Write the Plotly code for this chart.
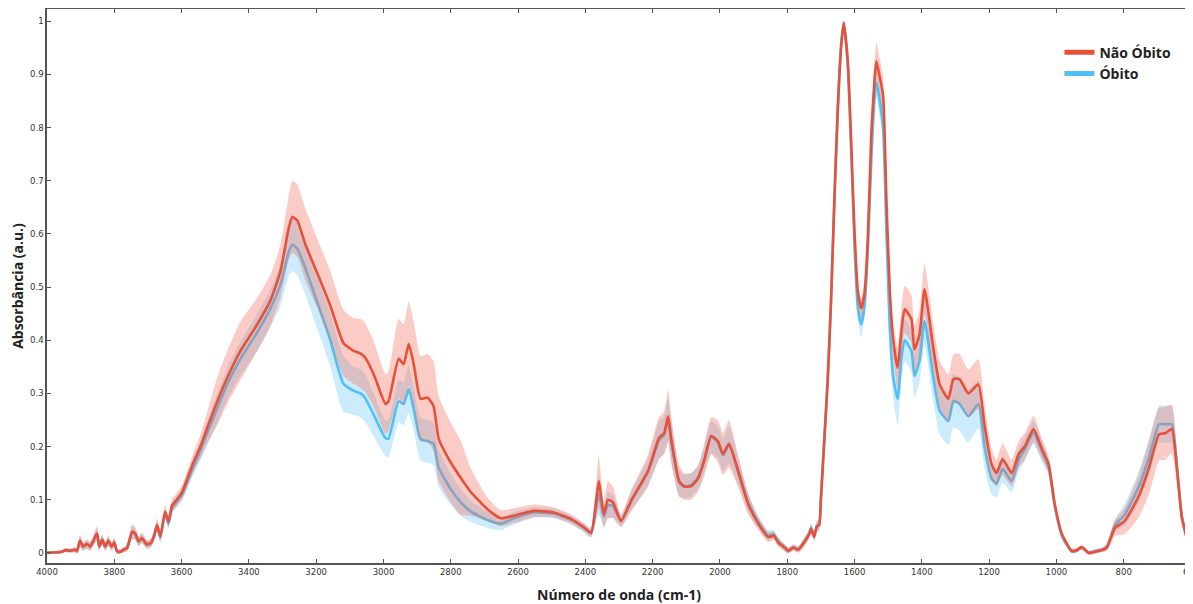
import plotly.graph_objects as go

# Wavenumber grid (cm-1), descending
wavenumber = [4000, 3956, 3946, 3930, 3917, 3911, 3902, 3893, 3881, 3872, 3863, 3851, 3845, 3836, 3827,
              3818, 3808, 3800, 3792, 3783, 3772, 3762, 3747, 3738, 3728, 3718, 3703, 3691, 3681, 3673,
              3663, 3649, 3639, 3628, 3618, 3598, 3583, 3565, 3544, 3524, 3494, 3464, 3425, 3375, 3336,
              3306, 3282, 3271, 3256, 3232, 3196, 3158, 3119, 3089, 3068, 3055, 3029, 2994, 2985, 2955,
              2940, 2925, 2910, 2890, 2869, 2851, 2836, 2800, 2770, 2741, 2691, 2651, 2612, 2553, 2494,
              2443, 2404, 2383, 2369, 2360, 2354, 2345, 2333, 2318, 2294, 2264, 2214, 2181, 2166, 2154,
              2145, 2121, 2106, 2086, 2065, 2047, 2026, 2006, 1991, 1973, 1946, 1916, 1886, 1857, 1840,
              1827, 1812, 1797, 1782, 1767, 1749, 1735, 1729, 1720, 1712, 1705, 1700, 1690, 1680, 1670,
              1660, 1650, 1640, 1632, 1620, 1610, 1600, 1590, 1580, 1570, 1560, 1550, 1540, 1535, 1525,
              1515, 1505, 1495, 1485, 1472, 1460, 1451, 1431, 1422, 1407, 1392, 1366, 1347, 1321, 1306,
              1288, 1262, 1232, 1214, 1193, 1178, 1160, 1133, 1112, 1094, 1068, 1044, 1023, 1005, 984,
              955, 940, 925, 904, 880, 865, 850, 826, 797, 755, 725, 695, 676, 657, 642,
              627, 606, 600]

# "Não Óbito" mean absorbance and standard deviation
nao_obito_mean = [0.000, 0.002, 0.005, 0.004, 0.006, 0.003, 0.023, 0.012, 0.017, 0.012, 0.022, 0.037, 0.012, 0.025, 0.012,
                  0.023, 0.012, 0.020, 0.003, 0.002, 0.006, 0.009, 0.040, 0.037, 0.022, 0.028, 0.016, 0.019, 0.034, 0.053,
                  0.031, 0.078, 0.059, 0.090, 0.097, 0.115, 0.140, 0.170, 0.200, 0.235, 0.285, 0.330, 0.380, 0.430, 0.475,
                  0.530, 0.610, 0.632, 0.625, 0.580, 0.525, 0.465, 0.395, 0.380, 0.375, 0.368, 0.336, 0.280, 0.285, 0.365,
                  0.355, 0.393, 0.355, 0.290, 0.292, 0.276, 0.215, 0.170, 0.141, 0.115, 0.082, 0.065, 0.070, 0.079, 0.076,
                  0.064, 0.048, 0.038, 0.092, 0.135, 0.110, 0.073, 0.100, 0.095, 0.060, 0.098, 0.154, 0.216, 0.225, 0.257,
                  0.215, 0.135, 0.125, 0.125, 0.140, 0.173, 0.220, 0.210, 0.186, 0.205, 0.154, 0.092, 0.055, 0.030, 0.032,
                  0.020, 0.012, 0.004, 0.010, 0.006, 0.020, 0.035, 0.045, 0.030, 0.050, 0.052, 0.100, 0.210, 0.320, 0.470,
                  0.660, 0.830, 0.950, 0.997, 0.925, 0.775, 0.605, 0.490, 0.460, 0.490, 0.600, 0.790, 0.895, 0.925, 0.895,
                  0.860, 0.660, 0.490, 0.400, 0.348, 0.420, 0.458, 0.440, 0.383, 0.410, 0.496, 0.386, 0.317, 0.290, 0.327,
                  0.327, 0.300, 0.317, 0.242, 0.167, 0.150, 0.176, 0.150, 0.186, 0.200, 0.233, 0.197, 0.167, 0.092, 0.036,
                  0.004, 0.005, 0.011, 0.000, 0.003, 0.005, 0.010, 0.047, 0.060, 0.107, 0.160, 0.223, 0.225, 0.233, 0.160,
                  0.066, 0.013, 0.005]
nao_obito_sd = [0.002, 0.003, 0.004, 0.004, 0.005, 0.005, 0.012, 0.008, 0.009, 0.008, 0.010, 0.014, 0.008, 0.010, 0.008,
                0.010, 0.008, 0.009, 0.005, 0.004, 0.005, 0.006, 0.014, 0.012, 0.010, 0.010, 0.008, 0.008, 0.010, 0.012,
                0.010, 0.012, 0.011, 0.012, 0.012, 0.013, 0.015, 0.018, 0.022, 0.030, 0.045, 0.050, 0.055, 0.050, 0.048,
                0.050, 0.060, 0.068, 0.068, 0.068, 0.065, 0.065, 0.062, 0.062, 0.065, 0.065, 0.062, 0.056, 0.056, 0.075,
                0.075, 0.080, 0.080, 0.080, 0.082, 0.085, 0.080, 0.075, 0.070, 0.045, 0.022, 0.015, 0.014, 0.012, 0.010,
                0.009, 0.008, 0.008, 0.030, 0.050, 0.040, 0.025, 0.035, 0.030, 0.012, 0.020, 0.030, 0.040, 0.040, 0.050,
                0.045, 0.030, 0.025, 0.025, 0.025, 0.030, 0.035, 0.040, 0.040, 0.045, 0.030, 0.020, 0.012, 0.010, 0.008,
                0.008, 0.007, 0.006, 0.006, 0.006, 0.008, 0.008, 0.010, 0.008, 0.010, 0.010, 0.010, 0.010, 0.010, 0.010,
                0.010, 0.010, 0.008, 0.005, 0.010, 0.012, 0.015, 0.020, 0.020, 0.020, 0.020, 0.030, 0.035, 0.035, 0.035,
                0.035, 0.030, 0.030, 0.035, 0.040, 0.045, 0.045, 0.045, 0.045, 0.045, 0.047, 0.045, 0.045, 0.045, 0.047,
                0.047, 0.045, 0.047, 0.040, 0.030, 0.025, 0.030, 0.025, 0.025, 0.025, 0.025, 0.020, 0.015, 0.010, 0.006,
                0.004, 0.004, 0.004, 0.004, 0.004, 0.004, 0.006, 0.015, 0.025, 0.040, 0.050, 0.050, 0.050, 0.045, 0.030,
                0.015, 0.006, 0.004]

# "Óbito" mean absorbance and standard deviation
obito_mean = [0.000, 0.002, 0.005, 0.004, 0.006, 0.003, 0.022, 0.012, 0.016, 0.012, 0.021, 0.035, 0.012, 0.024, 0.012,
              0.022, 0.012, 0.019, 0.003, 0.002, 0.006, 0.009, 0.038, 0.035, 0.021, 0.027, 0.015, 0.018, 0.032, 0.050,
              0.029, 0.074, 0.055, 0.085, 0.093, 0.110, 0.133, 0.162, 0.192, 0.225, 0.272, 0.318, 0.365, 0.415, 0.460,
              0.505, 0.565, 0.580, 0.572, 0.535, 0.470, 0.400, 0.318, 0.305, 0.300, 0.292, 0.260, 0.216, 0.215, 0.285,
              0.280, 0.308, 0.270, 0.214, 0.210, 0.205, 0.160, 0.120, 0.095, 0.078, 0.062, 0.055, 0.065, 0.076, 0.074,
              0.062, 0.047, 0.037, 0.080, 0.110, 0.095, 0.068, 0.090, 0.088, 0.060, 0.097, 0.152, 0.212, 0.222, 0.252,
              0.212, 0.132, 0.125, 0.128, 0.142, 0.175, 0.218, 0.208, 0.184, 0.203, 0.154, 0.094, 0.058, 0.033, 0.035,
              0.022, 0.013, 0.005, 0.010, 0.007, 0.022, 0.036, 0.047, 0.032, 0.051, 0.053, 0.102, 0.213, 0.325, 0.475,
              0.665, 0.835, 0.955, 0.997, 0.915, 0.755, 0.575, 0.460, 0.430, 0.465, 0.575, 0.740, 0.860, 0.885, 0.850,
              0.800, 0.600, 0.420, 0.330, 0.290, 0.370, 0.400, 0.380, 0.333, 0.360, 0.436, 0.330, 0.267, 0.248, 0.286,
              0.280, 0.257, 0.280, 0.200, 0.140, 0.130, 0.158, 0.135, 0.175, 0.195, 0.226, 0.192, 0.160, 0.088, 0.032,
              0.003, 0.004, 0.010, 0.001, 0.004, 0.006, 0.012, 0.052, 0.072, 0.125, 0.179, 0.242, 0.242, 0.242, 0.165,
              0.068, 0.014, 0.005]
obito_sd = [0.002, 0.003, 0.004, 0.004, 0.005, 0.005, 0.010, 0.008, 0.008, 0.008, 0.009, 0.012, 0.008, 0.009, 0.008,
            0.009, 0.008, 0.008, 0.005, 0.004, 0.005, 0.006, 0.012, 0.011, 0.009, 0.009, 0.008, 0.008, 0.009, 0.011,
            0.009, 0.011, 0.010, 0.011, 0.011, 0.012, 0.014, 0.016, 0.018, 0.022, 0.028, 0.030, 0.032, 0.035, 0.035,
            0.040, 0.045, 0.050, 0.050, 0.050, 0.050, 0.050, 0.053, 0.045, 0.045, 0.045, 0.040, 0.034, 0.035, 0.040,
            0.040, 0.045, 0.040, 0.040, 0.040, 0.040, 0.035, 0.030, 0.025, 0.020, 0.015, 0.012, 0.012, 0.010, 0.009,
            0.008, 0.008, 0.008, 0.025, 0.040, 0.030, 0.020, 0.025, 0.022, 0.010, 0.018, 0.025, 0.035, 0.035, 0.040,
            0.040, 0.025, 0.022, 0.022, 0.022, 0.025, 0.030, 0.030, 0.030, 0.035, 0.025, 0.018, 0.012, 0.010, 0.008,
            0.008, 0.007, 0.006, 0.006, 0.006, 0.008, 0.008, 0.010, 0.008, 0.010, 0.010, 0.010, 0.010, 0.010, 0.010,
            0.010, 0.010, 0.008, 0.005, 0.010, 0.012, 0.015, 0.020, 0.025, 0.020, 0.020, 0.025, 0.030, 0.030, 0.030,
            0.030, 0.030, 0.035, 0.040, 0.050, 0.045, 0.040, 0.040, 0.040, 0.040, 0.045, 0.045, 0.045, 0.045, 0.050,
            0.050, 0.050, 0.045, 0.040, 0.030, 0.025, 0.025, 0.022, 0.022, 0.022, 0.022, 0.020, 0.015, 0.010, 0.006,
            0.004, 0.004, 0.004, 0.004, 0.004, 0.004, 0.006, 0.012, 0.020, 0.030, 0.035, 0.035, 0.035, 0.035, 0.025,
            0.012, 0.006, 0.004]

x_ticks = [4000, 3800, 3600, 3400, 3200, 3000, 2800, 2600, 2400, 2200, 2000, 1800, 1600, 1400, 1200, 1000, 800, 600]
y_ticks = [0, 0.1, 0.2, 0.3, 0.4, 0.5, 0.6, 0.7, 0.8, 0.9, 1]

RED = "#E8503A"
BLUE = "#4FC1F5"
RED_FILL = "rgba(242, 110, 90, 0.35)"
BLUE_FILL = "rgba(120, 205, 250, 0.38)"
SMOOTH = 0.5


def band(mean, sd, fill, name):
    upper = [m + s for m, s in zip(mean, sd)]
    lower = [m - s for m, s in zip(mean, sd)]
    return go.Scatter(
        x=wavenumber + wavenumber[::-1],
        y=upper + lower[::-1],
        fill="toself", fillcolor=fill, line=dict(width=0, shape="spline", smoothing=SMOOTH),
        mode="lines", hoverinfo="skip", showlegend=False, name=name + " ± dp",
    )


fig = go.Figure()
fig.add_trace(band(obito_mean, obito_sd, BLUE_FILL, "Óbito"))
fig.add_trace(go.Scatter(x=wavenumber, y=obito_mean, mode="lines", name="Óbito", showlegend=False,
                         line=dict(color=BLUE, width=2.6, shape="spline", smoothing=SMOOTH)))
fig.add_trace(band(nao_obito_mean, nao_obito_sd, RED_FILL, "Não Óbito"))
fig.add_trace(go.Scatter(x=wavenumber, y=nao_obito_mean, mode="lines", name="Não Óbito", showlegend=False,
                         line=dict(color=RED, width=2.6, shape="spline", smoothing=SMOOTH)))
# legend entries (thicker swatches, as in the reference)
fig.add_trace(go.Scatter(x=[None], y=[None], mode="lines", name="<b>Não Óbito</b>",
                         line=dict(color=RED, width=5), legendrank=1, hoverinfo="skip"))
fig.add_trace(go.Scatter(x=[None], y=[None], mode="lines", name="<b>Óbito</b>",
                         line=dict(color=BLUE, width=5), legendrank=2, hoverinfo="skip"))

axis_common = dict(
    showline=True, linecolor="#555555", linewidth=1.5, mirror="ticks",
    ticks="inside", ticklen=4, tickwidth=1, tickcolor="#555555",
    showgrid=False, zeroline=False, ticklabeloverflow="allow", automargin=False,
    tickfont=dict(family="DejaVu Sans", size=8.5, color="#333333"),
)

# The page body adds an 8px offset, so margins are reduced accordingly.
fig.update_layout(
    width=1185, height=596,
    margin=dict(l=39, r=2, t=1, b=41),
    paper_bgcolor="white", plot_bgcolor="white",
    xaxis=dict(range=[4000, 600], tickvals=x_ticks, ticktext=[str(v) for v in x_ticks],
               title=dict(text="<b>Número de onda (cm-1)</b>", standoff=15,
                          font=dict(family="Open Sans", size=14, color="#222222")),
               **axis_common),
    yaxis=dict(range=[-0.019, 1.023], tickvals=y_ticks, ticktext=[str(v) for v in y_ticks],
               title=dict(text="<b>Absorbância (a.u.)</b>", standoff=13,
                          font=dict(family="Open Sans", size=14, color="#222222")),
               **axis_common),
    legend=dict(x=0.885, y=0.95, xanchor="left", yanchor="top",
                font=dict(family="Open Sans", size=14, color="#222222"),
                bgcolor="rgba(0,0,0,0)", itemwidth=30),
    showlegend=True,
)

fig.write_html("out.html")
